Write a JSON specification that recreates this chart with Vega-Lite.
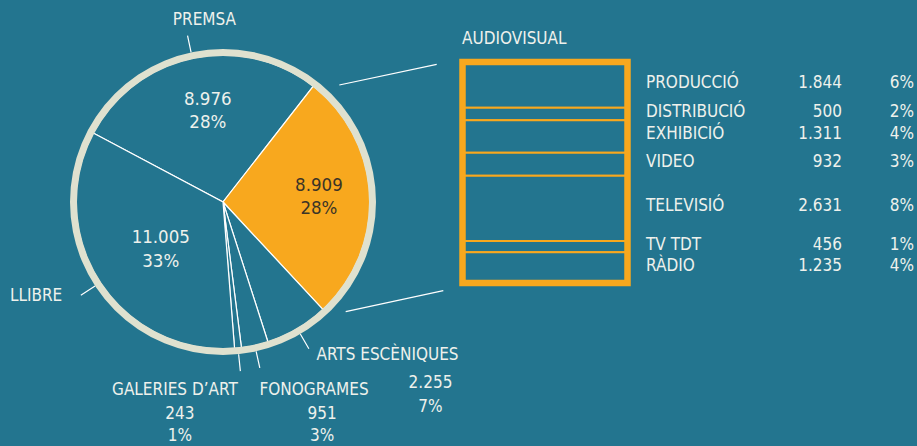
{
  "$schema": "https://vega.github.io/schema/vega-lite/v6.json",
  "width": 917,
  "height": 446,
  "padding": 0,
  "autosize": {"type": "fit", "contains": "padding"},
  "background": "#23758f",
  "config": {
    "view": {"stroke": null},
    "locale": {"number": {"decimal": ",", "thousands": ".", "grouping": [3], "currency": ["", " €"]}},
    "text": {"font": "Liberation Sans Narrow, DejaVu Sans Condensed, sans-serif", "fontSize": 17, "color": "#eef1ec", "baseline": "middle"}
  },
  "datasets": {
    "sectors": [
      {"name": "PREMSA", "value": 8976, "pct": 0.28, "ord": 1},
      {"name": "AUDIOVISUAL", "value": 8909, "pct": 0.28, "ord": 2},
      {"name": "ARTS ESCÈNIQUES", "value": 2255, "pct": 0.07, "ord": 3},
      {"name": "FONOGRAMES", "value": 951, "pct": 0.03, "ord": 4},
      {"name": "GALERIES D’ART", "value": 243, "pct": 0.01, "ord": 5},
      {"name": "LLIBRE", "value": 11005, "pct": 0.33, "ord": 6}
    ],
    "audiovisual": [
      {"name": "PRODUCCIÓ", "value": 1844, "pct": 0.06, "ord": 1},
      {"name": "DISTRIBUCIÓ", "value": 500, "pct": 0.02, "ord": 2},
      {"name": "EXHIBICIÓ", "value": 1311, "pct": 0.04, "ord": 3},
      {"name": "VIDEO", "value": 932, "pct": 0.03, "ord": 4},
      {"name": "TELEVISIÓ", "value": 2631, "pct": 0.08, "ord": 5},
      {"name": "TV TDT", "value": 456, "pct": 0.01, "ord": 6},
      {"name": "RÀDIO", "value": 1235, "pct": 0.04, "ord": 7}
    ]
  },
  "resolve": {"scale": {"y": "independent"}},
  "layer": [
    {
      "data": {"name": "sectors"},
      "layer": [
        {
          "mark": {"type": "arc", "outerRadius": 147, "stroke": "#ffffff", "strokeWidth": 1.2},
          "encoding": {
            "x": {"datum": 223, "type": "quantitative", "scale": {"domain": [0, 917], "nice": false, "zero": false}, "axis": null},
            "y": {"datum": 202, "type": "quantitative", "scale": {"domain": [0, 446], "nice": false, "zero": false, "reverse": true}, "axis": null},
            "theta": {"field": "value", "type": "quantitative", "stack": true, "scale": {"range": [-1.0821, 5.2011]}},
            "order": {"field": "ord", "type": "quantitative"},
            "detail": {"field": "name"},
            "color": {"condition": {"test": "datum.ord === 2", "value": "#f8a81e"}, "value": "#23758f"}
          }
        },
        {
          "data": {"values": [{}]},
          "mark": {"type": "arc", "outerRadius": 153, "innerRadius": 146, "theta": 0, "theta2": 6.2832, "color": "#dfe1cf"},
          "encoding": {
            "x": {"datum": 223, "type": "quantitative", "scale": {"domain": [0, 917], "nice": false, "zero": false}, "axis": null},
            "y": {"datum": 202, "type": "quantitative", "scale": {"domain": [0, 446], "nice": false, "zero": false, "reverse": true}, "axis": null}
          }
        },
        {
          "mark": {"type": "arc", "outerRadius": 170, "innerRadius": 153, "padAngle": 3, "stroke": "#ffffff", "strokeWidth": 1.2, "fill": "transparent"},
          "encoding": {
            "x": {"datum": 223, "type": "quantitative", "scale": {"domain": [0, 917], "nice": false, "zero": false}, "axis": null},
            "y": {"datum": 202, "type": "quantitative", "scale": {"domain": [0, 446], "nice": false, "zero": false, "reverse": true}, "axis": null},
            "theta": {"field": "value", "type": "quantitative", "stack": true, "scale": {"range": [-1.0821, 5.2011]}},
            "order": {"field": "ord", "type": "quantitative"},
            "detail": {"field": "name"},
            "strokeOpacity": {"condition": {"test": "datum.ord === 2", "value": 0}, "value": 1}
          }
        },
        {
          "mark": {"type": "text", "clip": true, "radius": 92, "dx": 4, "dy": -13, "fontSize": 18.5},
          "encoding": {
            "x": {"datum": 223, "type": "quantitative", "scale": {"domain": [0, 917], "nice": false, "zero": false}, "axis": null},
            "y": {"datum": 202, "type": "quantitative", "scale": {"domain": [0, 446], "nice": false, "zero": false, "reverse": true}, "axis": null},
            "theta": {"field": "value", "type": "quantitative", "stack": true, "scale": {"range": [-1.0821, 5.2011]}},
            "order": {"field": "ord", "type": "quantitative"},
            "detail": {"field": "name"},
            "text": {"field": "value", "type": "quantitative", "format": ",d"},
            "opacity": {"condition": {"test": "datum.ord <= 2", "value": 1}, "value": 0},
            "color": {"condition": {"test": "datum.ord === 2", "value": "#3b3427"}, "value": "#eef1ec"}
          }
        },
        {
          "mark": {"type": "text", "clip": true, "radius": 92, "dx": 4, "dy": 10, "fontSize": 18.5},
          "encoding": {
            "x": {"datum": 223, "type": "quantitative", "scale": {"domain": [0, 917], "nice": false, "zero": false}, "axis": null},
            "y": {"datum": 202, "type": "quantitative", "scale": {"domain": [0, 446], "nice": false, "zero": false, "reverse": true}, "axis": null},
            "theta": {"field": "value", "type": "quantitative", "stack": true, "scale": {"range": [-1.0821, 5.2011]}},
            "order": {"field": "ord", "type": "quantitative"},
            "detail": {"field": "name"},
            "text": {"field": "pct", "type": "quantitative", "format": ".0%"},
            "opacity": {"condition": {"test": "datum.ord <= 2", "value": 1}, "value": 0},
            "color": {"condition": {"test": "datum.ord === 2", "value": "#3b3427"}, "value": "#eef1ec"}
          }
        },
        {
          "mark": {"type": "text", "clip": true, "radius": 78, "dx": 3, "dy": -8, "fontSize": 18.5},
          "encoding": {
            "x": {"datum": 223, "type": "quantitative", "scale": {"domain": [0, 917], "nice": false, "zero": false}, "axis": null},
            "y": {"datum": 202, "type": "quantitative", "scale": {"domain": [0, 446], "nice": false, "zero": false, "reverse": true}, "axis": null},
            "theta": {"field": "value", "type": "quantitative", "stack": true, "scale": {"range": [-1.0821, 5.2011]}},
            "order": {"field": "ord", "type": "quantitative"},
            "detail": {"field": "name"},
            "text": {"field": "value", "type": "quantitative", "format": ",d"},
            "opacity": {"condition": {"test": "datum.ord === 6", "value": 1}, "value": 0}
          }
        },
        {
          "mark": {"type": "text", "clip": true, "radius": 78, "dx": 3, "dy": 16, "fontSize": 18.5},
          "encoding": {
            "x": {"datum": 223, "type": "quantitative", "scale": {"domain": [0, 917], "nice": false, "zero": false}, "axis": null},
            "y": {"datum": 202, "type": "quantitative", "scale": {"domain": [0, 446], "nice": false, "zero": false, "reverse": true}, "axis": null},
            "theta": {"field": "value", "type": "quantitative", "stack": true, "scale": {"range": [-1.0821, 5.2011]}},
            "order": {"field": "ord", "type": "quantitative"},
            "detail": {"field": "name"},
            "text": {"field": "pct", "type": "quantitative", "format": ".0%"},
            "opacity": {"condition": {"test": "datum.ord === 6", "value": 1}, "value": 0}
          }
        },
        {
          "mark": {"type": "text", "clip": true, "radius": 185, "dx": 20, "dy": -1},
          "encoding": {
            "x": {"datum": 223, "type": "quantitative", "scale": {"domain": [0, 917], "nice": false, "zero": false}, "axis": null},
            "y": {"datum": 202, "type": "quantitative", "scale": {"domain": [0, 446], "nice": false, "zero": false, "reverse": true}, "axis": null},
            "theta": {"field": "value", "type": "quantitative", "stack": true, "scale": {"range": [-1.0821, 5.2011]}},
            "order": {"field": "ord", "type": "quantitative"},
            "detail": {"field": "name"},
            "text": {"field": "name"},
            "opacity": {"condition": {"test": "datum.ord === 1", "value": 1}, "value": 0}
          }
        },
        {
          "mark": {"type": "text", "clip": true, "radius": 185, "dx": -6, "dy": -7, "align": "right"},
          "encoding": {
            "x": {"datum": 223, "type": "quantitative", "scale": {"domain": [0, 917], "nice": false, "zero": false}, "axis": null},
            "y": {"datum": 202, "type": "quantitative", "scale": {"domain": [0, 446], "nice": false, "zero": false, "reverse": true}, "axis": null},
            "theta": {"field": "value", "type": "quantitative", "stack": true, "scale": {"range": [-1.0821, 5.2011]}},
            "order": {"field": "ord", "type": "quantitative"},
            "detail": {"field": "name"},
            "text": {"field": "name"},
            "opacity": {"condition": {"test": "datum.ord === 6", "value": 1}, "value": 0}
          }
        },
        {
          "mark": {"type": "text", "clip": true, "radius": 185, "dx": 0, "dy": -7, "align": "left"},
          "encoding": {
            "x": {"datum": 223, "type": "quantitative", "scale": {"domain": [0, 917], "nice": false, "zero": false}, "axis": null},
            "y": {"datum": 202, "type": "quantitative", "scale": {"domain": [0, 446], "nice": false, "zero": false, "reverse": true}, "axis": null},
            "theta": {"field": "value", "type": "quantitative", "stack": true, "scale": {"range": [-1.0821, 5.2011]}},
            "order": {"field": "ord", "type": "quantitative"},
            "detail": {"field": "name"},
            "text": {"field": "name"},
            "opacity": {"condition": {"test": "datum.ord === 3", "value": 1}, "value": 0}
          }
        },
        {
          "mark": {"type": "text", "clip": true, "radius": 185, "dx": 114, "dy": 21},
          "encoding": {
            "x": {"datum": 223, "type": "quantitative", "scale": {"domain": [0, 917], "nice": false, "zero": false}, "axis": null},
            "y": {"datum": 202, "type": "quantitative", "scale": {"domain": [0, 446], "nice": false, "zero": false, "reverse": true}, "axis": null},
            "theta": {"field": "value", "type": "quantitative", "stack": true, "scale": {"range": [-1.0821, 5.2011]}},
            "order": {"field": "ord", "type": "quantitative"},
            "detail": {"field": "name"},
            "text": {"field": "value", "type": "quantitative", "format": ",d"},
            "opacity": {"condition": {"test": "datum.ord === 3", "value": 1}, "value": 0}
          }
        },
        {
          "mark": {"type": "text", "clip": true, "radius": 185, "dx": 114, "dy": 45},
          "encoding": {
            "x": {"datum": 223, "type": "quantitative", "scale": {"domain": [0, 917], "nice": false, "zero": false}, "axis": null},
            "y": {"datum": 202, "type": "quantitative", "scale": {"domain": [0, 446], "nice": false, "zero": false, "reverse": true}, "axis": null},
            "theta": {"field": "value", "type": "quantitative", "stack": true, "scale": {"range": [-1.0821, 5.2011]}},
            "order": {"field": "ord", "type": "quantitative"},
            "detail": {"field": "name"},
            "text": {"field": "pct", "type": "quantitative", "format": ".0%"},
            "opacity": {"condition": {"test": "datum.ord === 3", "value": 1}, "value": 0}
          }
        },
        {
          "mark": {"type": "text", "clip": true, "radius": 185, "dx": -67, "dy": 4},
          "encoding": {
            "x": {"datum": 223, "type": "quantitative", "scale": {"domain": [0, 917], "nice": false, "zero": false}, "axis": null},
            "y": {"datum": 202, "type": "quantitative", "scale": {"domain": [0, 446], "nice": false, "zero": false, "reverse": true}, "axis": null},
            "theta": {"field": "value", "type": "quantitative", "stack": true, "scale": {"range": [-1.0821, 5.2011]}},
            "order": {"field": "ord", "type": "quantitative"},
            "detail": {"field": "name"},
            "text": {"field": "name"},
            "opacity": {"condition": {"test": "datum.ord === 5", "value": 1}, "value": 0}
          }
        },
        {
          "mark": {"type": "text", "clip": true, "radius": 185, "dx": -62, "dy": 28},
          "encoding": {
            "x": {"datum": 223, "type": "quantitative", "scale": {"domain": [0, 917], "nice": false, "zero": false}, "axis": null},
            "y": {"datum": 202, "type": "quantitative", "scale": {"domain": [0, 446], "nice": false, "zero": false, "reverse": true}, "axis": null},
            "theta": {"field": "value", "type": "quantitative", "stack": true, "scale": {"range": [-1.0821, 5.2011]}},
            "order": {"field": "ord", "type": "quantitative"},
            "detail": {"field": "name"},
            "text": {"field": "value", "type": "quantitative", "format": ",d"},
            "opacity": {"condition": {"test": "datum.ord === 5", "value": 1}, "value": 0}
          }
        },
        {
          "mark": {"type": "text", "clip": true, "radius": 185, "dx": -62, "dy": 50},
          "encoding": {
            "x": {"datum": 223, "type": "quantitative", "scale": {"domain": [0, 917], "nice": false, "zero": false}, "axis": null},
            "y": {"datum": 202, "type": "quantitative", "scale": {"domain": [0, 446], "nice": false, "zero": false, "reverse": true}, "axis": null},
            "theta": {"field": "value", "type": "quantitative", "stack": true, "scale": {"range": [-1.0821, 5.2011]}},
            "order": {"field": "ord", "type": "quantitative"},
            "detail": {"field": "name"},
            "text": {"field": "pct", "type": "quantitative", "format": ".0%"},
            "opacity": {"condition": {"test": "datum.ord === 5", "value": 1}, "value": 0}
          }
        },
        {
          "mark": {"type": "text", "clip": true, "radius": 185, "dx": 51, "dy": 7},
          "encoding": {
            "x": {"datum": 223, "type": "quantitative", "scale": {"domain": [0, 917], "nice": false, "zero": false}, "axis": null},
            "y": {"datum": 202, "type": "quantitative", "scale": {"domain": [0, 446], "nice": false, "zero": false, "reverse": true}, "axis": null},
            "theta": {"field": "value", "type": "quantitative", "stack": true, "scale": {"range": [-1.0821, 5.2011]}},
            "order": {"field": "ord", "type": "quantitative"},
            "detail": {"field": "name"},
            "text": {"field": "name"},
            "opacity": {"condition": {"test": "datum.ord === 4", "value": 1}, "value": 0}
          }
        },
        {
          "mark": {"type": "text", "clip": true, "radius": 185, "dx": 59, "dy": 31},
          "encoding": {
            "x": {"datum": 223, "type": "quantitative", "scale": {"domain": [0, 917], "nice": false, "zero": false}, "axis": null},
            "y": {"datum": 202, "type": "quantitative", "scale": {"domain": [0, 446], "nice": false, "zero": false, "reverse": true}, "axis": null},
            "theta": {"field": "value", "type": "quantitative", "stack": true, "scale": {"range": [-1.0821, 5.2011]}},
            "order": {"field": "ord", "type": "quantitative"},
            "detail": {"field": "name"},
            "text": {"field": "value", "type": "quantitative", "format": ",d"},
            "opacity": {"condition": {"test": "datum.ord === 4", "value": 1}, "value": 0}
          }
        },
        {
          "mark": {"type": "text", "clip": true, "radius": 185, "dx": 59, "dy": 53},
          "encoding": {
            "x": {"datum": 223, "type": "quantitative", "scale": {"domain": [0, 917], "nice": false, "zero": false}, "axis": null},
            "y": {"datum": 202, "type": "quantitative", "scale": {"domain": [0, 446], "nice": false, "zero": false, "reverse": true}, "axis": null},
            "theta": {"field": "value", "type": "quantitative", "stack": true, "scale": {"range": [-1.0821, 5.2011]}},
            "order": {"field": "ord", "type": "quantitative"},
            "detail": {"field": "name"},
            "text": {"field": "pct", "type": "quantitative", "format": ".0%"},
            "opacity": {"condition": {"test": "datum.ord === 4", "value": 1}, "value": 0}
          }
        },
        {
          "data": {"values": [{}]},
          "mark": {"type": "rule", "color": "#ffffff", "strokeWidth": 1.2},
          "encoding": {
            "x": {"datum": 339.3, "type": "quantitative", "scale": {"domain": [0, 917], "nice": false, "zero": false}, "axis": null},
            "y": {"datum": 85, "type": "quantitative", "scale": {"domain": [0, 446], "nice": false, "zero": false, "reverse": true}, "axis": null},
            "x2": {"datum": 436.7},
            "y2": {"datum": 64.3}
          }
        },
        {
          "data": {"values": [{}]},
          "mark": {"type": "rule", "color": "#ffffff", "strokeWidth": 1.2},
          "encoding": {
            "x": {"datum": 345.7, "type": "quantitative", "scale": {"domain": [0, 917], "nice": false, "zero": false}, "axis": null},
            "y": {"datum": 311.7, "type": "quantitative", "scale": {"domain": [0, 446], "nice": false, "zero": false, "reverse": true}, "axis": null},
            "x2": {"datum": 443.3},
            "y2": {"datum": 290.7}
          }
        },
        {
          "data": {"values": [{}]},
          "mark": {"type": "text", "align": "left", "text": "AUDIOVISUAL"},
          "encoding": {
            "x": {"datum": 462, "type": "quantitative", "scale": {"domain": [0, 917], "nice": false, "zero": false}, "axis": null},
            "y": {"datum": 38.5, "type": "quantitative", "scale": {"domain": [0, 446], "nice": false, "zero": false, "reverse": true}, "axis": null}
          }
        }
      ]
    },
    {
      "data": {"name": "audiovisual"},
      "layer": [
        {
          "transform": [{"stack": "value", "groupby": [], "sort": [{"field": "ord", "order": "ascending"}], "as": ["s0", "s1"]}],
          "mark": {"type": "rect", "fill": "#23758f", "stroke": "#f8a81e", "strokeWidth": 2},
          "encoding": {
            "x": {"datum": 462.5, "type": "quantitative", "scale": {"domain": [0, 917], "nice": false, "zero": false}, "axis": null},
            "x2": {"datum": 627.5},
            "y": {"field": "s0", "type": "quantitative", "scale": {"domain": [-2499.4, 15479.7], "nice": false, "zero": false, "reverse": true}, "axis": null},
            "y2": {"field": "s1"}
          }
        },
        {
          "mark": {"type": "rect", "filled": false, "stroke": "#f8a81e", "strokeWidth": 6.5},
          "encoding": {
            "x": {"datum": 462.5, "type": "quantitative", "scale": {"domain": [0, 917], "nice": false, "zero": false}, "axis": null},
            "x2": {"datum": 627.5},
            "y": {"aggregate": "sum", "field": "value", "type": "quantitative", "scale": {"domain": [-2499.4, 15479.7], "nice": false, "zero": false, "reverse": true}, "axis": null},
            "y2": {"datum": 0}
          }
        },
        {
          "mark": {"type": "text", "align": "left", "dy": -2},
          "encoding": {
            "x": {"datum": 646, "type": "quantitative", "scale": {"domain": [0, 917], "nice": false, "zero": false}, "axis": null},
            "y": {"field": "value", "type": "quantitative", "stack": "zero", "bandPosition": 0.5, "scale": {"domain": [-2499.4, 15479.7], "nice": false, "zero": false, "reverse": true}, "axis": null},
            "order": {"field": "ord", "type": "quantitative"},
            "detail": {"field": "name"},
            "text": {"field": "name"}
          }
        },
        {
          "mark": {"type": "text", "align": "right", "dy": -2},
          "encoding": {
            "x": {"datum": 842, "type": "quantitative", "scale": {"domain": [0, 917], "nice": false, "zero": false}, "axis": null},
            "y": {"field": "value", "type": "quantitative", "stack": "zero", "bandPosition": 0.5, "scale": {"domain": [-2499.4, 15479.7], "nice": false, "zero": false, "reverse": true}, "axis": null},
            "order": {"field": "ord", "type": "quantitative"},
            "detail": {"field": "name"},
            "text": {"field": "value", "type": "quantitative", "format": ",d"}
          }
        },
        {
          "mark": {"type": "text", "align": "right", "dy": -2},
          "encoding": {
            "x": {"datum": 914, "type": "quantitative", "scale": {"domain": [0, 917], "nice": false, "zero": false}, "axis": null},
            "y": {"field": "value", "type": "quantitative", "stack": "zero", "bandPosition": 0.5, "scale": {"domain": [-2499.4, 15479.7], "nice": false, "zero": false, "reverse": true}, "axis": null},
            "order": {"field": "ord", "type": "quantitative"},
            "detail": {"field": "name"},
            "text": {"field": "pct", "type": "quantitative", "format": ".0%"}
          }
        }
      ]
    }
  ]
}
